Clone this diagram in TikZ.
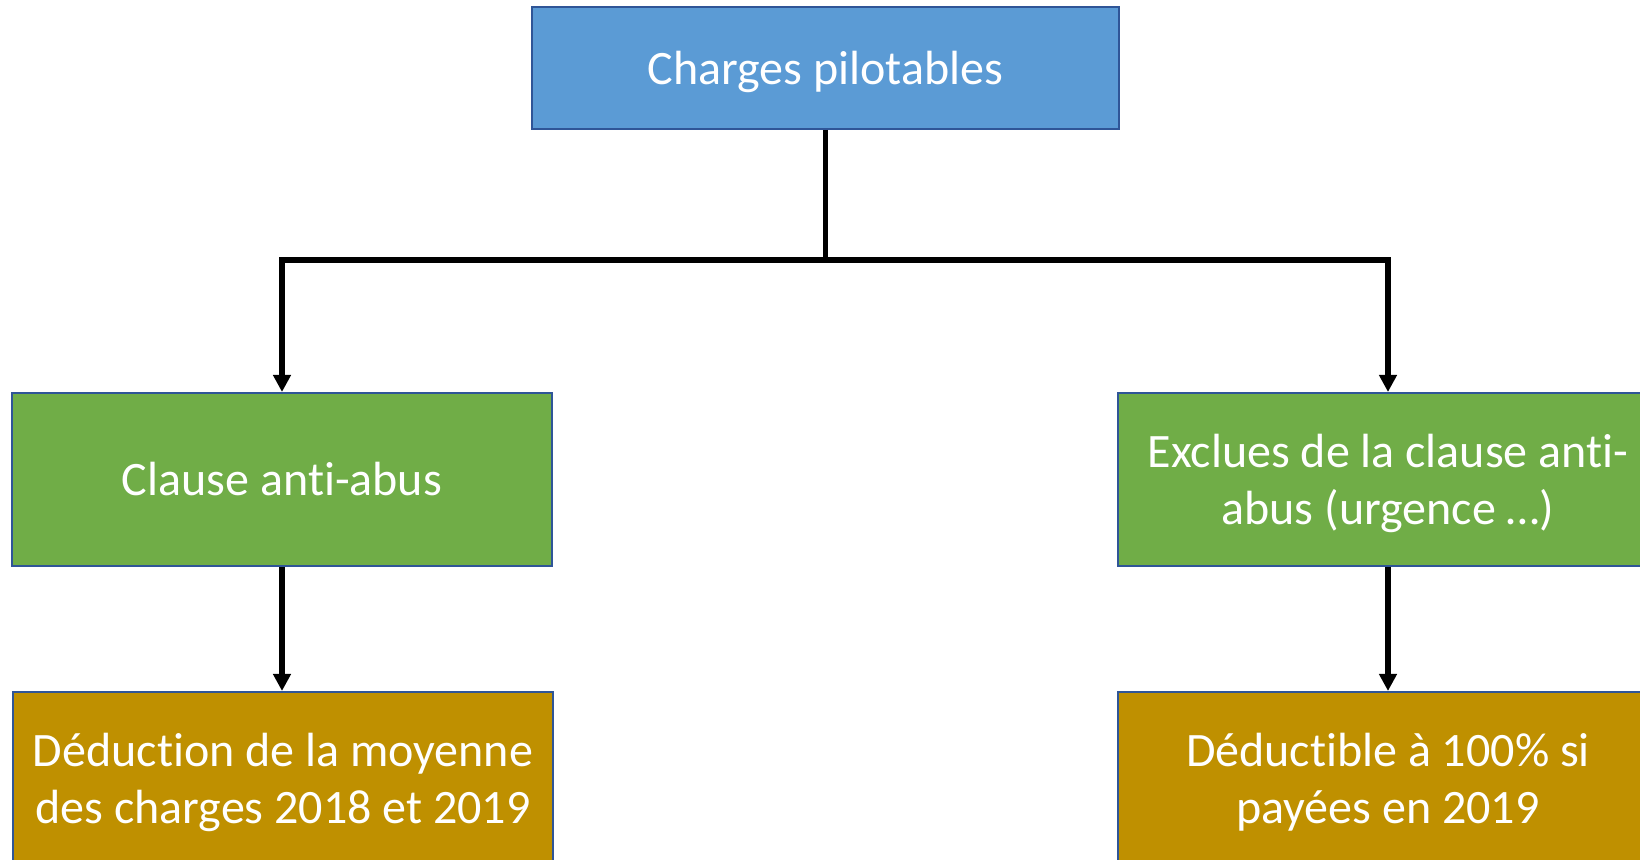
\documentclass[tikz,border=0pt]{standalone}
\usepackage{fontspec}
\setmainfont{Carlito}[Ligatures=CommonOff]
\usetikzlibrary{arrows.meta}
\definecolor{topblue}{HTML}{5B9BD5}
\definecolor{leafgreen}{HTML}{70AD47}
\definecolor{goldbox}{HTML}{BF9000}
\definecolor{edgeblue}{HTML}{2F5597}
% line strut: fixed ascent/descent so every line sits like the others
\newcommand\ls{\rule[-6.05pt]{0pt}{28.5pt}}
\tikzset{
  box/.style={draw=edgeblue, line width=1pt, text=white, align=center,
    inner sep=0pt, font=\fontsize{24}{28.5}\selectfont},
  topbox/.style={box, fill=topblue, minimum width=293.5pt, minimum height=61pt},
  midbox/.style={box, fill=leafgreen, minimum width=270pt, minimum height=86.5pt},
  lowbox/.style={box, fill=goldbox, minimum width=270pt, minimum height=86.5pt},
  conn/.style={line width=2.6pt, draw=black, line join=miter},
  arr/.style={conn, -{Triangle[width=8.5pt,length=8.5pt]}}
}
\begin{document}
\begin{tikzpicture}
\useasboundingbox (0,0) rectangle (820pt,-430pt);
\clip (0,0) rectangle (820pt,-430pt);
\node[topbox] (top) at (412.75pt,-34pt) {\ls Charges pilotables};
\node[midbox] (clause) at (141pt,-239.75pt) {\ls Clause anti-abus};
\node[midbox] (excl) at (694pt,-239.75pt) {\ls Exclues de la clause anti-\\\ls abus (urgence …)};
\node[lowbox] (moy) at (141.5pt,-389.25pt) {\ls Déduction de la moyenne\\\ls des charges 2018 et 2019};
\node[lowbox] (ded) at (694pt,-389.25pt) {\ls Déductible à 100\% si\\\ls payées en 2019};
\coordinate (split) at (412.75pt,-130pt);
\draw[conn] (top.south) -- (split);
\draw[arr] (split) -| (clause.north);
\draw[arr] (split) -| (excl.north);
\draw[arr] (clause.south) -- (moy.north -| clause.south);
\draw[arr] (excl.south) -- (ded.north);
\end{tikzpicture}
\end{document}
